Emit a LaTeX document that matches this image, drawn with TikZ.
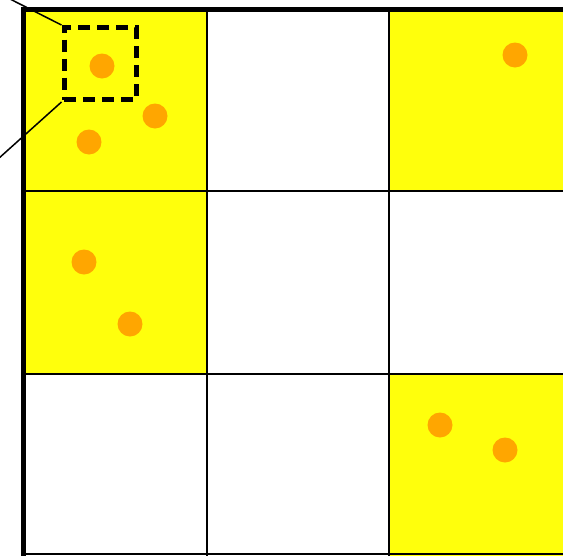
\documentclass[tikz,border=0pt]{standalone}
\definecolor{cellyellow}{RGB}{255,255,12}
\definecolor{dotorange}{RGB}{255,166,0}
\begin{document}
\begin{tikzpicture}[x=1pt,y=-1pt,
  dot/.style={circle,fill=dotorange,inner sep=0pt,minimum size=25pt},
  cell/.style={fill=cellyellow},
  gridline/.style={line width=1.5pt,black},
  frame/.style={line width=4.5pt,black},
  zoombox/.style={draw,line width=5pt,dash pattern=on 12pt off 7pt,inner sep=0pt,minimum width=72pt,minimum height=72pt},
  leader/.style={line width=1.5pt}]
\useasboundingbox (0,0) rectangle (563,555);
\clip (0,0) rectangle (563,555);
% yellow cells
\fill[cell] (24,10) rectangle (207,191);
\fill[cell] (389,10) rectangle (580,191);
\fill[cell] (24,191) rectangle (207,374);
\fill[cell] (389,374) rectangle (580,556);
% grid
\draw[gridline] (207,10) -- (207,556);
\draw[gridline] (389,10) -- (389,556);
\draw[gridline] (24,191) -- (580,191);
\draw[gridline] (24,374) -- (580,374);
\draw[gridline] (24,554) -- (580,554);
% frame
\draw[frame] (23.5,580) -- (23.5,9.5) -- (580,9.5);
% dots
\node[dot] (d1) at (102,66) {};
\node[dot] (d2) at (155,116) {};
\node[dot] (d3) at (89,142) {};
\node[dot] (d4) at (515,55) {};
\node[dot] (d5) at (84,262) {};
\node[dot] (d6) at (130,324) {};
\node[dot] (d7) at (440,425) {};
\node[dot] (d8) at (505,450) {};
% zoom box
\node[zoombox] (zb) at (100,63.5) {};
\coordinate (l1) at (8,-2);
\coordinate (l2) at (-2,159);
\draw[leader] (l1) -- (zb.north west);
\draw[leader] (l2) -- (zb.south west);
\end{tikzpicture}
\end{document}
